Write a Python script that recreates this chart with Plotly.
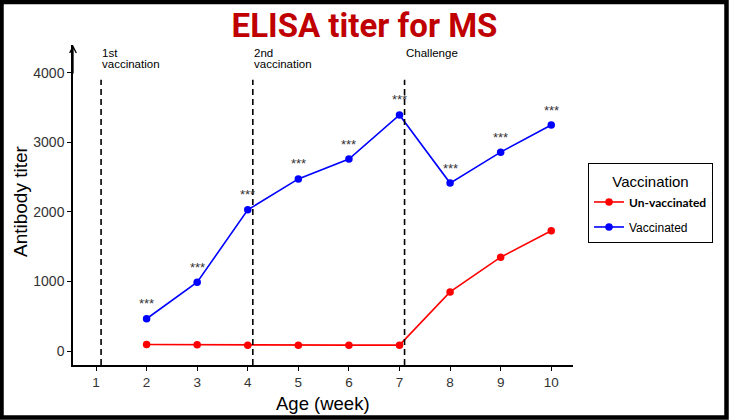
import plotly.graph_objects as go

weeks = [2, 3, 4, 5, 6, 7, 8, 9, 10]
vaccinated = [465, 990, 2030, 2475, 2760, 3395, 2415, 2860, 3250]
unvaccinated = [95, 90, 85, 85, 85, 85, 850, 1350, 1730]
event_weeks = [1.1, 4.1, 7.1]
event_labels = [["1st", "vaccination"], ["2nd", "vaccination"], ["Challenge"]]
x_ticks = list(range(1, 11))
y_ticks = [0, 1000, 2000, 3000, 4000]
sig_labels = ["***"] * len(weeks)

FONT = "Liberation Sans, Arial, sans-serif"

fig = go.Figure()
fig.add_trace(go.Scatter(x=weeks, y=unvaccinated, mode="lines+markers",
                         name="<span style='font-family:Lato'><b>Un-vaccinated</b></span>",
                         legendgroup="u",
                         line=dict(color="#FF0000", width=1.6),
                         marker=dict(color="#FF0000", size=7.5)))
fig.add_trace(go.Scatter(x=weeks, y=vaccinated, mode="lines+markers",
                         name="Vaccinated", legendgroup="v",
                         line=dict(color="#0000FF", width=1.6),
                         marker=dict(color="#0000FF", size=7.5)))

shapes = []
for xv in event_weeks:
    shapes.append(dict(type="line", xref="x", yref="y", x0=xv, x1=xv, y0=-200, y1=3900,
                       line=dict(color="black", width=1.6, dash="6px,4px")))
# outer border of the picture
shapes.append(dict(type="rect", xref="paper", yref="paper",
                   x0=(1.5 - 73) / 500, x1=(726.5 - 73) / 500,
                   y0=(365 - 417.5) / 320, y1=(365 - 2) / 320,
                   line=dict(color="black", width=4.5), fillcolor="rgba(0,0,0,0)"))

annotations = []
for xv, y, s in zip(weeks, vaccinated, sig_labels):
    annotations.append(dict(x=xv, y=y, text=s, showarrow=False, yshift=15,
                            font=dict(family=FONT, size=13, color="#333")))
for xv, lines in zip(event_weeks, event_labels):
    for i, t in enumerate(lines):
        annotations.append(dict(x=xv, xref="x", y=(365 - 53 - 11 * i) / 320, yref="paper",
                                text=t, showarrow=False, xanchor="left", yanchor="middle",
                                xshift=-1,
                                font=dict(family=FONT, size=11.5, color="black")))
# y-axis arrow
annotations.append(dict(x=0.545, y=4400, xref="x", yref="y", ax=0, ay=30,
                        showarrow=True, arrowhead=5, arrowsize=1, arrowwidth=1.3,
                        arrowcolor="black", text=""))
annotations.append(dict(x=(20 - 73) / 500, xref="paper", y=(365 - 201) / 320, yref="paper",
                        text="Antibody titer", textangle=-90, showarrow=False,
                        xanchor="center", yanchor="middle",
                        font=dict(family=FONT, size=19, color="black")))
annotations.append(dict(x=0.5, xref="paper", y=(365 - 391) / 320, yref="paper",
                        text="Age (week)", showarrow=False,
                        xanchor="center", yanchor="top",
                        font=dict(family=FONT, size=18.5, color="black")))

fig.update_layout(
    width=729, height=420,
    margin=dict(l=73, r=156, t=45, b=55),
    paper_bgcolor="white", plot_bgcolor="white",
    title=dict(text="<b>ELISA titer for MS</b>", x=0.5, xref="container",
               y=1 - 25 / 420, yref="container", xanchor="center", yanchor="middle",
               font=dict(family="Roboto, sans-serif", size=33, color="#C00000")),
    xaxis=dict(range=[0.545, 10.43], tickvals=x_ticks, showgrid=False, zeroline=False,
               showline=True, linecolor="black", linewidth=1.5,
               ticks="outside", ticklen=4, tickcolor="black", tickwidth=1.2,
               tickfont=dict(family=FONT, size=13.5, color="#333")),
    yaxis=dict(range=[-200, 4400], tickvals=y_ticks, showgrid=False, zeroline=False,
               showline=True, linecolor="black", linewidth=1.5,
               ticks="outside", ticklen=4, tickcolor="black", tickwidth=1.2,
               tickfont=dict(family=FONT, size=14, color="#333")),
    legend=dict(x=1.03, y=0.631, xanchor="left", yanchor="top",
                bordercolor="black", borderwidth=1, bgcolor="white",
                itemwidth=30, tracegroupgap=6,
                title=dict(text="<span style='font-size:15px'>Vaccination</span>",
                           side="top center",
                           font=dict(family=FONT, size=18, color="black")),
                font=dict(family=FONT, size=12, color="black")),
    shapes=shapes, annotations=annotations,
    showlegend=True,
)

fig.write_html("out.html", config={"displayModeBar": False},
               post_script="document.body.style.margin='0';")
